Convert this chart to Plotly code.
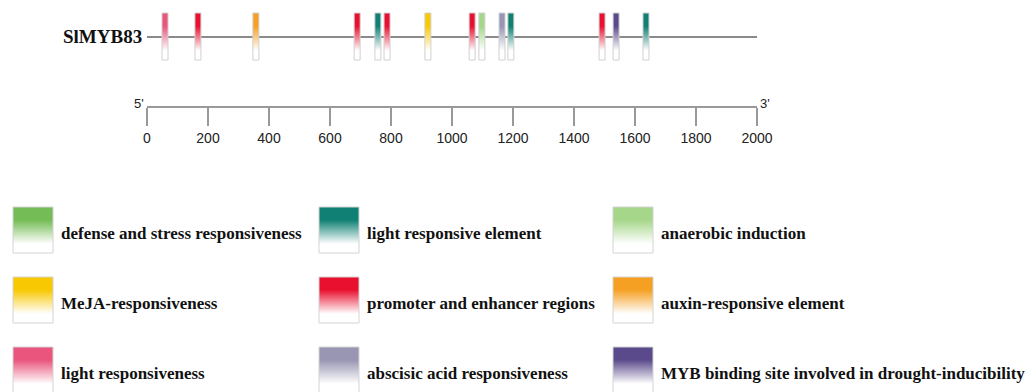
import plotly.graph_objects as go

W, H = 1029, 392

gene_name = "SlMYB83"
gene_length = 2000

categories = [
    "defense and stress responsiveness", "light responsive element", "anaerobic induction",
    "MeJA-responsiveness", "promoter and enhancer regions", "auxin-responsive element",
    "light responsiveness", "abscisic acid responsiveness", "MYB binding site involved in drought-inducibility",
]
category_colors = [
    "#74BC55", "#0F8073", "#A6D68A",
    "#F8C803", "#E9102F", "#F5A023",
    "#E9557C", "#9896B2", "#5B4A8B",
]

element_positions = [59, 167, 357, 689, 757, 787, 921, 1066, 1098, 1164, 1193, 1492, 1538, 1636]
element_types = [
    "light responsiveness", "promoter and enhancer regions", "auxin-responsive element",
    "promoter and enhancer regions", "light responsive element", "promoter and enhancer regions",
    "MeJA-responsiveness", "promoter and enhancer regions", "anaerobic induction",
    "abscisic acid responsiveness", "light responsive element", "promoter and enhancer regions",
    "MYB binding site involved in drought-inducibility", "light responsive element",
]

tick_values = list(range(0, 2001, 200))

# layout geometry (pixels)
x0_px, x1_px = 147, 757
bp_per_px = gene_length / (x1_px - x0_px)
elem_w = 6 * bp_per_px
gene_y = H - 37
elem_top, elem_bot = H - 13, H - 60
ruler_y = 107

def grad(color):
    return dict(type="vertical",
                colorscale=[[0, "white"], [0.2, "white"], [0.72, color], [1, color]])

cmap = dict(zip(categories, category_colors))

fig = go.Figure()

# gene line
fig.add_trace(go.Scatter(x=[0, gene_length], y=[gene_y, gene_y], mode="lines",
                         line=dict(color="#8a8a8a", width=2), hoverinfo="skip",
                         xaxis="x", yaxis="y", showlegend=False))

# elements
for pos, t in zip(element_positions, element_types):
    a, b = pos - elem_w / 2, pos + elem_w / 2
    fig.add_trace(go.Scatter(
        x=[a, b, b, a, a], y=[elem_bot, elem_bot, elem_top, elem_top, elem_bot],
        mode="lines", fill="toself", fillgradient=grad(cmap[t]),
        line=dict(color="#d0d0d0", width=1), xaxis="x", yaxis="y",
        showlegend=False, hoverinfo="skip"))

# legend boxes
col_x = [13, 319, 613]
row_y = [207, 277, 347]
sq_w, sq_h = 40, 46
annotations = []
for i, (name, c) in enumerate(zip(categories, category_colors)):
    r, k = divmod(i, 3)
    lx, ty = col_x[k], row_y[r]
    yb, yt = H - (ty + sq_h), H - ty
    fig.add_trace(go.Scatter(
        x=[lx, lx + sq_w, lx + sq_w, lx, lx], y=[yb, yb, yt, yt, yb],
        mode="lines", fill="toself", fillgradient=grad(c),
        line=dict(color="#d4d4d4", width=1), xaxis="x2", yaxis="y2",
        showlegend=False, hoverinfo="skip", cliponaxis=False))
    annotations.append(dict(
        x=lx + 46, y=H - (ty + sq_h / 2 + 3), xref="x2", yref="y2",
        text="<b>" + name + "</b>", showarrow=False, xanchor="left", yanchor="middle",
        font=dict(family="Liberation Serif", size=17, color="#111")))

annotations.append(dict(x=144, y=gene_y + 1, xref="x2", yref="y2", text="<b>" + gene_name + "</b>",
                        showarrow=False, xanchor="right", yanchor="middle",
                        font=dict(family="Liberation Serif", size=19, color="#111")))
annotations.append(dict(x=x0_px - 1, y=H - ruler_y + 4, xref="x2", yref="y2", text="5'",
                        showarrow=False, xanchor="right", yanchor="middle",
                        font=dict(family="Liberation Sans", size=13, color="#222")))
annotations.append(dict(x=x1_px + 1, y=H - ruler_y + 4, xref="x2", yref="y2", text="3'",
                        showarrow=False, xanchor="left", yanchor="middle",
                        font=dict(family="Liberation Sans", size=13, color="#222")))

fig.update_layout(
    template="none",
    width=W, height=H, margin=dict(l=0, r=0, t=0, b=0, pad=0, autoexpand=False),
    paper_bgcolor="white", plot_bgcolor="rgba(0,0,0,0)",
    xaxis=dict(domain=[x0_px / W, x1_px / W], range=[0, gene_length], anchor="free",
               position=1 - ruler_y / H, side="bottom", showline=True, linecolor="#999",
               linewidth=1.5, ticks="outside", ticklen=18, tickwidth=1.5, tickcolor="#999",
               tickvals=tick_values, ticktext=[str(v) for v in tick_values],
               tickfont=dict(family="Liberation Sans", size=14, color="#222"),
               showgrid=False, zeroline=False, fixedrange=True, automargin=False),
    yaxis=dict(domain=[0, 1], range=[0, H], visible=False, fixedrange=True, anchor="x",
               automargin=False),
    xaxis2=dict(domain=[0, 1], range=[0, W], visible=False, anchor="y2", fixedrange=True,
                automargin=False),
    yaxis2=dict(domain=[0, 1], range=[0, H], visible=False, anchor="x2", fixedrange=True,
                automargin=False),
    annotations=annotations, showlegend=False,
)

fig.write_html("out.html")
